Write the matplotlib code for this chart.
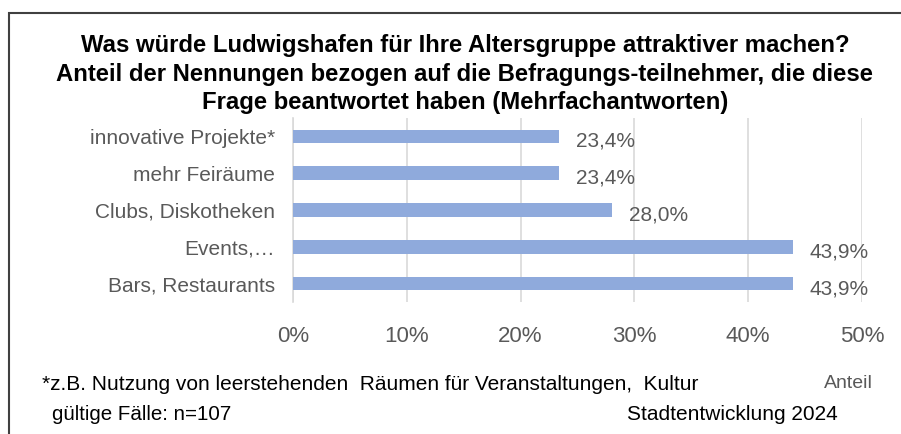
import matplotlib.pyplot as plt
from matplotlib.patches import Rectangle

# Antworten und Anteile (in %), von oben nach unten
categories = ["innovative Projekte*", "mehr Feiräume", "Clubs, Diskotheken",
              "Events,…", "Bars, Restaurants"]
shares = [23.4, 23.4, 28.0, 43.9, 43.9]
xticks = [0, 10, 20, 30, 40, 50]

title = ("Was würde Ludwigshafen für Ihre Altersgruppe attraktiver machen?\n"
         "Anteil der Nennungen bezogen auf die Befragungs-teilnehmer, die diese\n"
         "Frage beantwortet haben (Mehrfachantworten)")
footnote = "*z.B. Nutzung von leerstehenden  Räumen für Veranstaltungen,  Kultur"
cases = "gültige Fälle: n=107"
source = "Stadtentwicklung 2024"

plt.rcParams['font.family'] = ['Liberation Sans', 'DejaVu Sans']
grey = '#595959'
bar_color = '#8FAADC'

W, H = 901, 434
fig = plt.figure(figsize=(W / 100, H / 100), dpi=100)

# Rahmen um das Diagramm (rechts und unten abgeschnitten)
fig.patches.append(Rectangle((9 / W, -0.05), 1.2, (H - 13) / H + 0.05,
                             transform=fig.transFigure, fill=False,
                             edgecolor='#404040', linewidth=1.5))

ax = fig.add_axes([293 / W, 132 / H, (862 - 293) / W, (302 - 118) / H])

# oberste Kategorie oben
ypos = list(range(len(categories)))[::-1]
ax.barh(ypos, shares, height=0.37, color=bar_color, zorder=3)

for y, v in zip(ypos, shares):
    ax.annotate(f"{v:.1f}%".replace('.', ','), xy=(v, y),
                xytext=(17, -5), textcoords='offset pixels',
                ha='left', va='center', fontsize=15, color=grey)

ax.set_xlim(0, 50)
ax.set_ylim(-0.5, len(categories) - 0.5)
ax.set_xticks(xticks)
ax.set_xticklabels([f"{t}%" for t in xticks], fontsize=16, color=grey)
ax.set_yticks(ypos)
ax.set_yticklabels(categories, fontsize=15, color=grey)
ax.tick_params(axis='x', length=0, pad=17)
ax.tick_params(axis='y', length=0, pad=13)
ax.grid(axis='x', color='#d9d9d9', linewidth=1.2, zorder=0)
for s in ['top', 'right', 'bottom']:
    ax.spines[s].set_visible(False)
ax.spines['left'].set_color('#d9d9d9')
ax.spines['left'].set_linewidth(1.2)

fig.text(465 / W, 1 - 74 / H, title, ha='center', va='center',
         fontsize=17.2, fontweight='bold', linespacing=1.33, color='black')

fig.text(42 / W, 1 - 384 / H, footnote, ha='left', va='center',
         fontsize=15, color='black')
fig.text(873 / W, 1 - 384 / H, "Anteil", ha='right', va='center',
         fontsize=14, color=grey)
fig.text(52 / W, 1 - 415 / H, cases, ha='left', va='center',
         fontsize=14.8, color='black')
fig.text(838 / W, 1 - 415 / H, source, ha='right', va='center',
         fontsize=15, color='black')

fig.savefig('out.png', dpi=100)
